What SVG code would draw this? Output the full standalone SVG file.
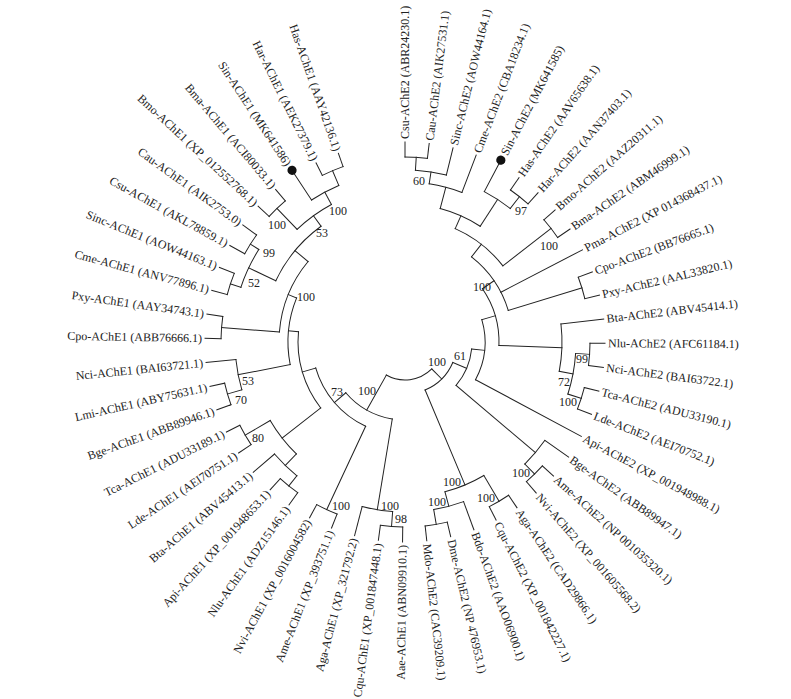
<svg xmlns="http://www.w3.org/2000/svg" width="791" height="699" viewBox="0 0 791 699">
<style>
.t{font-family:"Liberation Serif","Times New Roman",serif;font-size:12px;fill:#222}
.e{text-anchor:end}
.b{font-family:"Liberation Serif","Times New Roman",serif;font-size:12px;fill:#222;text-anchor:middle}
#connectors line,#connectors circle{fill:none;stroke:#222;stroke-width:1;stroke-linecap:square}
</style>
<rect width="791" height="699" fill="#fff"/>
<g id="connectors" transform="translate(405,342)">
<!-- AChE2 leaf branches -->
<line x1="185" x2="200" transform="rotate(270)"/>
<line x1="185" x2="200" transform="rotate(276.95)"/>
<line x1="172" x2="200" transform="rotate(283.9)"/>
<line x1="160" x2="200" transform="rotate(290.85)"/>
<line x1="170" x2="201" transform="rotate(297.8)"/>
<line x1="185" x2="200" transform="rotate(304.75)"/>
<line x1="185" x2="200" transform="rotate(311.7)"/>
<line x1="185" x2="200" transform="rotate(318.65)"/>
<line x1="185" x2="200" transform="rotate(325.6)"/>
<line x1="108" x2="200" transform="rotate(332.55)"/>
<line x1="185" x2="200" transform="rotate(339.5)"/>
<line x1="185" x2="200" transform="rotate(346.45)"/>
<line x1="157" x2="200" transform="rotate(353.4)"/>
<line x1="185" x2="200" transform="rotate(0.35)"/>
<line x1="185" x2="200" transform="rotate(7.3)"/>
<line x1="185" x2="200" transform="rotate(14.25)"/>
<line x1="185" x2="200" transform="rotate(21.2)"/>
<line x1="80" x2="200" transform="rotate(28.15)"/>
<line x1="171" x2="200" transform="rotate(35.1)"/>
<line x1="185" x2="200" transform="rotate(42.05)"/>
<line x1="185" x2="200" transform="rotate(49)"/>
<line x1="185" x2="200" transform="rotate(55.95)"/>
<line x1="185" x2="200" transform="rotate(62.9)"/>
<line x1="170" x2="200" transform="rotate(69.85)"/>
<line x1="185" x2="200" transform="rotate(76.8)"/>
<line x1="185" x2="200" transform="rotate(83.75)"/>
<!-- AChE2 internal branches -->
<line x1="172" x2="185" transform="rotate(273.475)"/>
<line x1="160" x2="172" transform="rotate(278.69)"/>
<line x1="138" x2="160" transform="rotate(284.77)"/>
<line x1="170" x2="185" transform="rotate(308.225)"/>
<line x1="138" x2="170" transform="rotate(303.01)"/>
<line x1="124" x2="138" transform="rotate(293.89)"/>
<line x1="124" x2="185" transform="rotate(322.125)"/>
<line x1="108" x2="124" transform="rotate(308.01)"/>
<line x1="108" x2="185" transform="rotate(342.975)"/>
<line x1="94" x2="108" transform="rotate(325.49)"/>
<line x1="171" x2="185" transform="rotate(3.825)"/>
<line x1="171" x2="185" transform="rotate(17.725)"/>
<line x1="157" x2="171" transform="rotate(10.775)"/>
<line x1="94" x2="157" transform="rotate(2.0875)"/>
<line x1="80" x2="94" transform="rotate(343.79)"/>
<line x1="67" x2="80" transform="rotate(5.97)"/>
<line x1="171" x2="185" transform="rotate(45.525)"/>
<line x1="67" x2="171" transform="rotate(40.3125)"/>
<line x1="52" x2="67" transform="rotate(23.14)"/>
<line x1="155" x2="185" transform="rotate(59.425)"/>
<line x1="170" x2="185" transform="rotate(80.275)"/>
<line x1="155" x2="170" transform="rotate(75.0625)"/>
<line x1="52" x2="155" transform="rotate(67.24)"/>
<line x1="38" x2="52" transform="rotate(45.19)"/>
<!-- AChE2 arcs -->
<circle r="185" stroke-dasharray="22.44 3000" transform="rotate(270)"/>
<circle r="172" stroke-dasharray="31.30 3000" transform="rotate(273.475)"/>
<circle r="160" stroke-dasharray="33.96 3000" transform="rotate(278.69)"/>
<circle r="185" stroke-dasharray="22.44 3000" transform="rotate(304.75)"/>
<circle r="170" stroke-dasharray="30.93 3000" transform="rotate(297.8)"/>
<circle r="138" stroke-dasharray="43.93 3000" transform="rotate(284.77)"/>
<circle r="185" stroke-dasharray="22.44 3000" transform="rotate(318.65)"/>
<circle r="124" stroke-dasharray="61.11 3000" transform="rotate(293.89)"/>
<circle r="185" stroke-dasharray="22.44 3000" transform="rotate(339.5)"/>
<circle r="108" stroke-dasharray="65.91 3000" transform="rotate(308.01)"/>
<circle r="185" stroke-dasharray="22.44 3000" transform="rotate(0.35)"/>
<circle r="185" stroke-dasharray="22.44 3000" transform="rotate(14.25)"/>
<circle r="171" stroke-dasharray="41.48 3000" transform="rotate(3.825)"/>
<circle r="157" stroke-dasharray="47.61 3000" transform="rotate(353.4)"/>
<circle r="94" stroke-dasharray="60.04 3000" transform="rotate(325.49)"/>
<circle r="80" stroke-dasharray="61.94 3000" transform="rotate(343.79)"/>
<circle r="185" stroke-dasharray="22.44 3000" transform="rotate(42.05)"/>
<circle r="171" stroke-dasharray="31.11 3000" transform="rotate(35.1)"/>
<circle r="67" stroke-dasharray="40.16 3000" transform="rotate(5.97)"/>
<circle r="185" stroke-dasharray="22.44 3000" transform="rotate(55.95)"/>
<circle r="185" stroke-dasharray="22.44 3000" transform="rotate(76.8)"/>
<circle r="170" stroke-dasharray="30.93 3000" transform="rotate(69.85)"/>
<circle r="155" stroke-dasharray="42.30 3000" transform="rotate(59.425)"/>
<circle r="52" stroke-dasharray="40.02 3000" transform="rotate(23.14)"/>
<!-- root arc -->
<circle r="38" stroke-dasharray="49.21 3000" transform="rotate(45.19)"/>
<!-- AChE1 leaf branches -->
<line x1="185" x2="200" transform="rotate(90.7)"/>
<line x1="185" x2="200" transform="rotate(97.65)"/>
<line x1="170" x2="200" transform="rotate(104.6)"/>
<line x1="185" x2="200" transform="rotate(111.55)"/>
<line x1="185" x2="200" transform="rotate(118.5)"/>
<line x1="185" x2="200" transform="rotate(125.45)"/>
<line x1="185" x2="200" transform="rotate(132.4)"/>
<line x1="172" x2="200" transform="rotate(139.35)"/>
<line x1="185" x2="200" transform="rotate(146.3)"/>
<line x1="185" x2="200" transform="rotate(153.25)"/>
<line x1="185" x2="200" transform="rotate(160.2)"/>
<line x1="185" x2="200" transform="rotate(167.15)"/>
<line x1="170" x2="200" transform="rotate(174.1)"/>
<line x1="184" x2="200" transform="rotate(181.05)"/>
<line x1="184" x2="200" transform="rotate(188)"/>
<line x1="184" x2="200" transform="rotate(194.95)"/>
<line x1="184" x2="200" transform="rotate(201.9)"/>
<line x1="183" x2="200" transform="rotate(208.85)"/>
<line x1="183" x2="200" transform="rotate(215.8)"/>
<line x1="185" x2="200" transform="rotate(222.75)"/>
<line x1="185" x2="200" transform="rotate(229.7)"/>
<line x1="170" x2="201" transform="rotate(236.65)"/>
<line x1="186" x2="200" transform="rotate(243.6)"/>
<line x1="186" x2="200" transform="rotate(250.55)"/>
<!-- AChE1 internal branches -->
<line x1="170" x2="185" transform="rotate(94.175)"/>
<line x1="78" x2="170" transform="rotate(99.39)"/>
<line x1="93" x2="185" transform="rotate(115.025)"/>
<line x1="172" x2="185" transform="rotate(128.925)"/>
<line x1="156" x2="172" transform="rotate(134.14)"/>
<line x1="156" x2="185" transform="rotate(149.775)"/>
<line x1="107" x2="156" transform="rotate(141.96)"/>
<line x1="170" x2="185" transform="rotate(163.675)"/>
<line x1="117" x2="170" transform="rotate(168.89)"/>
<line x1="126" x2="184" transform="rotate(184.525)"/>
<line x1="173" x2="184" transform="rotate(198.425)"/>
<line x1="173" x2="183" transform="rotate(212.325)"/>
<line x1="143" x2="173" transform="rotate(205.375)"/>
<line x1="156" x2="185" transform="rotate(226.225)"/>
<line x1="170" x2="186" transform="rotate(247.075)"/>
<line x1="156" x2="170" transform="rotate(241.86)"/>
<line x1="143" x2="156" transform="rotate(234.04)"/>
<line x1="126" x2="143" transform="rotate(219.71)"/>
<line x1="117" x2="126" transform="rotate(202.12)"/>
<line x1="107" x2="117" transform="rotate(185.5)"/>
<line x1="93" x2="107" transform="rotate(163.73)"/>
<line x1="78" x2="93" transform="rotate(139.38)"/>
<line x1="38" x2="78" transform="rotate(119.385)"/>
<!-- AChE1 arcs -->
<circle r="185" stroke-dasharray="22.44 3000" transform="rotate(90.7)"/>
<circle r="170" stroke-dasharray="30.93 3000" transform="rotate(94.175)"/>
<circle r="185" stroke-dasharray="22.44 3000" transform="rotate(111.55)"/>
<circle r="185" stroke-dasharray="22.44 3000" transform="rotate(125.45)"/>
<circle r="172" stroke-dasharray="31.30 3000" transform="rotate(128.925)"/>
<circle r="185" stroke-dasharray="22.44 3000" transform="rotate(146.3)"/>
<circle r="156" stroke-dasharray="42.57 3000" transform="rotate(134.14)"/>
<circle r="185" stroke-dasharray="22.44 3000" transform="rotate(160.2)"/>
<circle r="170" stroke-dasharray="30.93 3000" transform="rotate(163.675)"/>
<circle r="184" stroke-dasharray="22.32 3000" transform="rotate(181.05)"/>
<circle r="184" stroke-dasharray="22.32 3000" transform="rotate(194.95)"/>
<circle r="183" stroke-dasharray="22.20 3000" transform="rotate(208.85)"/>
<circle r="173" stroke-dasharray="41.97 3000" transform="rotate(198.425)"/>
<circle r="185" stroke-dasharray="22.44 3000" transform="rotate(222.75)"/>
<circle r="186" stroke-dasharray="22.56 3000" transform="rotate(243.6)"/>
<circle r="170" stroke-dasharray="30.93 3000" transform="rotate(236.65)"/>
<circle r="156" stroke-dasharray="42.57 3000" transform="rotate(226.225)"/>
<circle r="143" stroke-dasharray="71.54 3000" transform="rotate(205.375)"/>
<circle r="126" stroke-dasharray="77.38 3000" transform="rotate(184.525)"/>
<circle r="117" stroke-dasharray="67.86 3000" transform="rotate(168.89)"/>
<circle r="107" stroke-dasharray="81.31 3000" transform="rotate(141.96)"/>
<circle r="93" stroke-dasharray="79.06 3000" transform="rotate(115.025)"/>
<circle r="78" stroke-dasharray="54.44 3000" transform="rotate(99.39)"/>
</g>
<g transform="translate(405,342)">
<circle cx="0" cy="0" r="4.6" fill="#111" transform="rotate(297.8) translate(205.5,0)"/>
<circle cx="0" cy="0" r="4.6" fill="#111" transform="rotate(236.65) translate(205.5,0)"/>
<g id="Csu-AChE2"><text class="t" dy="4" transform="rotate(270) translate(203,0)">Csu-AChE2 (ABR24230.1)</text></g>
<g id="Cau-AChE2"><text class="t" dy="4" transform="rotate(276.95) translate(203,0)">Cau-AChE2 (AIK27531.1)</text></g>
<g id="Sinc-AChE2"><text class="t" dy="4" transform="rotate(283.9) translate(203,0)">Sinc-AChE2 (AOW44164.1)</text></g>
<g id="Cme-AChE2"><text class="t" dy="4" transform="rotate(290.85) translate(203,0)">Cme-AChE2 (CBA18234.1)</text></g>
<g id="Sin-AChE2"><text class="t" dy="4" transform="rotate(297.8) translate(212,0)">Sin-AChE2 (MK641585)</text></g>
<g id="Has-AChE2"><text class="t" dy="4" transform="rotate(304.75) translate(203,0)">Has-AChE2 (AAV65638.1)</text></g>
<g id="Har-AChE2"><text class="t" dy="4" transform="rotate(311.7) translate(203,0)">Har-AChE2 (AAN37403.1)</text></g>
<g id="Bmo-AChE2"><text class="t" dy="4" transform="rotate(318.65) translate(203,0)">Bmo-AChE2 (AAZ20311.1)</text></g>
<g id="Bma-AChE2"><text class="t" dy="4" transform="rotate(325.6) translate(203,0)">Bma-AChE2 (ABM46999.1)</text></g>
<g id="Pma-AChE2"><text class="t" dy="4" transform="rotate(332.55) translate(203,0)">Pma-AChE2 (XP 014368437.1)</text></g>
<g id="Cpo-AChE2"><text class="t" dy="4" transform="rotate(339.5) translate(203,0)">Cpo-AChE2 (BB76665.1)</text></g>
<g id="Pxy-AChE2"><text class="t" dy="4" transform="rotate(346.45) translate(203,0)">Pxy-AChE2 (AAL33820.1)</text></g>
<g id="Bta-AChE2"><text class="t" dy="4" transform="rotate(353.4) translate(203,0)">Bta-AChE2 (ABV45414.1)</text></g>
<g id="Nlu-AChE2"><text class="t" dy="4" transform="rotate(0.35) translate(203,0)">Nlu-AChE2 (AFC61184.1)</text></g>
<g id="Nci-AChE2"><text class="t" dy="4" transform="rotate(7.3) translate(203,0)">Nci-AChE2 (BAI63722.1)</text></g>
<g id="Tca-AChE2"><text class="t" dy="4" transform="rotate(14.25) translate(203,0)">Tca-AChE2 (ADU33190.1)</text></g>
<g id="Lde-AChE2"><text class="t" dy="4" transform="rotate(21.2) translate(203,0)">Lde-AChE2 (AEI70752.1)</text></g>
<g id="Api-AChE2"><text class="t" dy="4" transform="rotate(28.15) translate(203,0)">Api-AChE2 (XP_001948988.1)</text></g>
<g id="Bge-AChE2"><text class="t" dy="4" transform="rotate(35.1) translate(203,0)">Bge-AChE2 (ABB89947.1)</text></g>
<g id="Ame-AChE2"><text class="t" dy="4" transform="rotate(42.05) translate(203,0)">Ame-AChE2 (NP 001035320.1)</text></g>
<g id="Nvi-AChE2"><text class="t" dy="4" transform="rotate(49) translate(203,0)">Nvi-AChE2 (XP_001605568.2)</text></g>
<g id="Aga-AChE2"><text class="t" dy="4" transform="rotate(55.95) translate(203,0)">Aga-AChE2 (CAD29866.1)</text></g>
<g id="Cqu-AChE2"><text class="t" dy="4" transform="rotate(62.9) translate(203,0)">Cqu-AChE2 (XP_001842227.1)</text></g>
<g id="Bdo-AChE2"><text class="t" dy="4" transform="rotate(69.85) translate(203,0)">Bdo-AChE2 (AAO06900.1)</text></g>
<g id="Dme-AChE2"><text class="t" dy="4" transform="rotate(76.8) translate(203,0)">Dme-AChE2 (NP 476953.1)</text></g>
<g id="Mdo-AChE2"><text class="t" dy="4" transform="rotate(83.75) translate(203,0)">Mdo-AChE2 (CAC39209.1)</text></g>
<g id="Aae-AChE1"><text class="t e" dy="4" transform="rotate(90.7) translate(203,0) rotate(180)">Aae-AChE1 (ABN09910.1)</text></g>
<g id="Cqu-AChE1"><text class="t e" dy="4" transform="rotate(97.65) translate(203,0) rotate(180)">Cqu-AChE1 (XP_001847448.1)</text></g>
<g id="Aga-AChE1"><text class="t e" dy="4" transform="rotate(104.6) translate(203,0) rotate(180)">Aga-AChE1 (XP_321792.2)</text></g>
<g id="Ame-AChE1"><text class="t e" dy="4" transform="rotate(111.55) translate(203,0) rotate(180)">Ame-AChE1 (XP_393751.1)</text></g>
<g id="Nvi-AChE1"><text class="t e" dy="4" transform="rotate(118.5) translate(203,0) rotate(180)">Nvi-AChE1 (XP_0016004582)</text></g>
<g id="Nlu-AChE1"><text class="t e" dy="4" transform="rotate(125.45) translate(203,0) rotate(180)">Nlu-AChE1 (ADZ15146.1)</text></g>
<g id="Api-AChE1"><text class="t e" dy="4" transform="rotate(132.4) translate(203,0) rotate(180)">Api-AChE1 (XP_001948653.1)</text></g>
<g id="Bta-AChE1"><text class="t e" dy="4" transform="rotate(139.35) translate(203,0) rotate(180)">Bta-AChE1 (ABV45413.1)</text></g>
<g id="Lde-AChE1"><text class="t e" dy="4" transform="rotate(146.3) translate(203,0) rotate(180)">Lde-AChE1 (AEI70751.1)</text></g>
<g id="Tca-AChE1"><text class="t e" dy="4" transform="rotate(153.25) translate(203,0) rotate(180)">Tca-AChE1 (ADU33189.1)</text></g>
<g id="Bge-AChE1"><text class="t e" dy="4" transform="rotate(160.2) translate(203,0) rotate(180)">Bge-AChE1 (ABB89946.1)</text></g>
<g id="Lmi-AChE1"><text class="t e" dy="4" transform="rotate(167.15) translate(203,0) rotate(180)">Lmi-AChE1 (ABY75631.1)</text></g>
<g id="Nci-AChE1"><text class="t e" dy="4" transform="rotate(174.1) translate(203,0) rotate(180)">Nci-AChE1 (BAI63721.1)</text></g>
<g id="Cpo-AChE1"><text class="t e" dy="4" transform="rotate(181.05) translate(203,0) rotate(180)">Cpo-AChE1 (ABB76666.1)</text></g>
<g id="Pxy-AChE1"><text class="t e" dy="4" transform="rotate(188) translate(203,0) rotate(180)">Pxy-AChE1 (AAY34743.1)</text></g>
<g id="Cme-AChE1"><text class="t e" dy="4" transform="rotate(194.95) translate(203,0) rotate(180)">Cme-AChE1 (ANV77896.1)</text></g>
<g id="Sinc-AChE1"><text class="t e" dy="4" transform="rotate(201.9) translate(203,0) rotate(180)">Sinc-AChE1 (AOW44163.1)</text></g>
<g id="Csu-AChE1"><text class="t e" dy="4" transform="rotate(208.85) translate(203,0) rotate(180)">Csu-AChE1 (AKL78859.1)</text></g>
<g id="Cau-AChE1"><text class="t e" dy="4" transform="rotate(215.8) translate(203,0) rotate(180)">Cau-AChE1 (AIK2753.0)</text></g>
<g id="Bmo-AChE1"><text class="t e" dy="4" transform="rotate(222.75) translate(203,0) rotate(180)">Bmo-AChE1 (XP_012552768.1)</text></g>
<g id="Bma-AChE1"><text class="t e" dy="4" transform="rotate(229.7) translate(203,0) rotate(180)">Bma-AChE1 (ACI80033.1)</text></g>
<g id="Sin-AChE1"><text class="t e" dy="4" transform="rotate(236.65) translate(212,0) rotate(180)">Sin-AChE1 (MK641586)</text></g>
<g id="Har-AChE1"><text class="t e" dy="4" transform="rotate(243.6) translate(203,0) rotate(180)">Har-AChE1 (AEK27379.1)</text></g>
<g id="Has-AChE1"><text class="t e" dy="4" transform="rotate(250.55) translate(203,0) rotate(180)">Has-AChE1 (AAY42136.1)</text></g>
</g>
<g id="bootstrap">
<text class="b" x="338" y="215">100</text>
<text class="b" x="322" y="237">53</text>
<text class="b" x="277" y="229">100</text>
<text class="b" x="269" y="257">99</text>
<text class="b" x="254" y="287">52</text>
<text class="b" x="306" y="301">100</text>
<text class="b" x="248" y="385">53</text>
<text class="b" x="241" y="404">70</text>
<text class="b" x="258" y="442">80</text>
<text class="b" x="341" y="510">100</text>
<text class="b" x="337" y="396">73</text>
<text class="b" x="367" y="395">100</text>
<text class="b" x="390" y="510">100</text>
<text class="b" x="401" y="523">98</text>
<text class="b" x="419" y="185">60</text>
<text class="b" x="521" y="215">97</text>
<text class="b" x="549" y="250">100</text>
<text class="b" x="482" y="291">100</text>
<text class="b" x="460" y="360">61</text>
<text class="b" x="437" y="366">100</text>
<text class="b" x="582" y="363">99</text>
<text class="b" x="564" y="386">72</text>
<text class="b" x="568" y="406">100</text>
<text class="b" x="521" y="477">100</text>
<text class="b" x="486" y="502">100</text>
<text class="b" x="452" y="486">100</text>
<text class="b" x="437" y="506">100</text>
</g>
</svg>
